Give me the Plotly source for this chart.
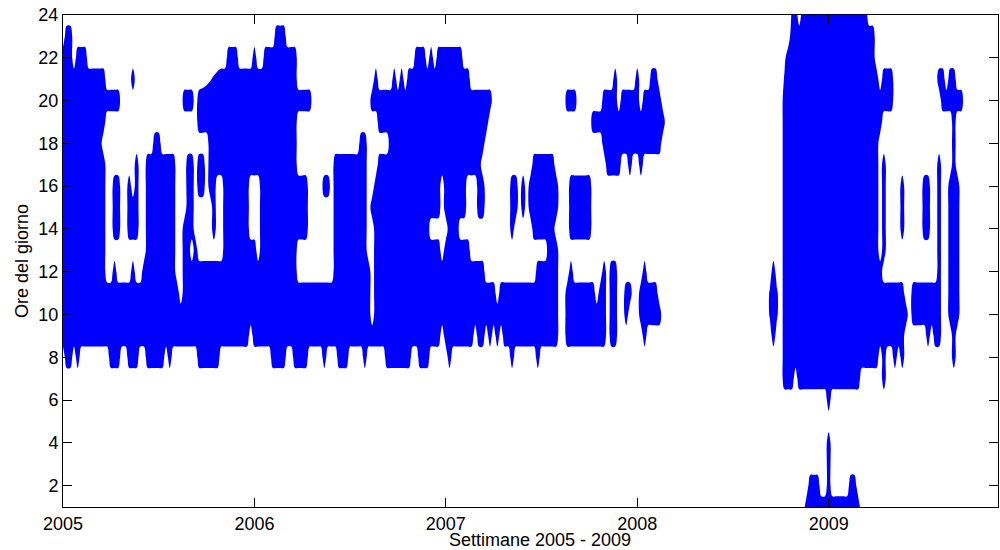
import numpy as np
import plotly.graph_objects as go

# ---- data: active week intervals (inclusive) for each hour of the day ----
N_WEEKS = 255
weeks = list(range(N_WEEKS))
hours = list(range(1, 25))
year_ticks = [0, 52, 104, 156, 208]
year_labels = ["2005", "2006", "2007", "2008", "2009"]
hour_ticks = list(range(2, 25, 2))

row_24 = [[199, 199], [201, 218]]
row_23 = [[1, 2], [58, 60], [198, 220]]
row_22 = [[0, 2], [4, 6], [45, 47], [52, 52], [55, 63], [96, 98], [100, 100], [102, 108], [197, 220]]
row_21 = [[0, 11], [19, 19], [43, 63], [85, 85], [90, 90], [92, 92], [94, 110], [150, 150], [156, 156],
          [160, 161], [197, 221], [223, 225], [238, 239], [241, 242]]
row_20 = [[0, 15], [33, 35], [37, 67], [84, 116], [137, 139], [147, 150], [152, 156], [158, 162],
          [196, 225], [239, 244]]
row_19 = [[0, 11], [37, 63], [86, 115], [144, 163], [196, 222], [242, 242]]
row_18 = [[0, 10], [25, 26], [40, 63], [81, 82], [89, 114], [147, 162], [196, 221], [242, 242]]
row_17 = [[0, 11], [20, 20], [23, 30], [34, 35], [37, 38], [40, 63], [74, 82], [86, 113], [128, 133],
          [148, 151], [154, 154], [157, 157], [196, 221], [223, 223], [238, 238], [242, 242]]
row_16 = [[0, 11], [14, 15], [18, 18], [20, 20], [23, 30], [34, 35], [37, 38], [40, 41], [44, 50],
          [54, 66], [71, 72], [74, 82], [85, 102], [104, 109], [113, 114], [122, 123], [125, 125],
          [127, 134], [138, 143], [196, 221], [223, 223], [228, 228], [234, 235], [238, 238], [241, 243]]
row_15 = [[0, 11], [14, 15], [18, 20], [23, 30], [34, 35], [41, 41], [44, 50], [54, 66], [74, 82],
          [84, 102], [104, 109], [113, 114], [122, 123], [125, 125], [127, 134], [138, 143],
          [196, 221], [223, 223], [228, 228], [234, 235], [238, 238], [241, 243]]
row_14 = [[0, 11], [14, 15], [18, 20], [23, 30], [33, 35], [41, 41], [44, 50], [54, 66], [74, 82],
          [85, 99], [105, 107], [122, 122], [128, 133], [138, 143], [196, 221], [223, 223],
          [228, 228], [234, 235], [238, 238], [241, 243]]
row_13 = [[0, 11], [23, 30], [33, 34], [36, 36], [44, 52], [54, 63], [74, 82], [85, 102], [104, 110],
          [132, 134], [196, 221], [223, 223], [238, 238], [241, 243]]
row_12 = [[0, 11], [14, 14], [19, 19], [22, 30], [33, 63], [74, 83], [85, 114], [129, 134],
          [138, 138], [147, 147], [149, 150], [158, 158], [193, 193], [196, 222], [238, 238], [241, 243]]
row_11 = [[0, 31], [33, 83], [85, 117], [119, 134], [137, 144], [146, 147], [149, 150], [153, 154],
          [157, 161], [193, 193], [196, 228], [231, 238], [241, 243]]
row_10 = [[0, 83], [85, 134], [137, 147], [149, 150], [153, 153], [157, 162], [193, 193],
          [196, 229], [231, 238], [241, 243]]
row_09 = [[0, 50], [52, 102], [104, 111], [113, 114], [116, 116], [118, 118], [120, 134], [137, 147],
          [149, 150], [158, 158], [193, 193], [196, 228], [235, 235], [237, 238], [242, 242]]
row_08 = [[1, 2], [4, 4], [13, 15], [18, 20], [23, 27], [29, 29], [37, 42], [57, 60], [63, 66],
          [71, 71], [75, 77], [82, 82], [88, 94], [97, 99], [105, 105], [122, 122], [129, 129],
          [196, 221], [223, 223], [226, 226], [228, 228], [242, 242]]
row_07 = [[196, 198], [200, 216], [223, 223]]
row_06 = [[208, 208]]
row_05 = []
row_04 = [[208, 208]]
row_03 = [[208, 208]]
row_02 = [[203, 205], [208, 208], [214, 215]]
row_01 = [[202, 216]]

rows = [row_01, row_02, row_03, row_04, row_05, row_06, row_07, row_08, row_09, row_10, row_11, row_12,
        row_13, row_14, row_15, row_16, row_17, row_18, row_19, row_20, row_21, row_22, row_23, row_24]

# partially active cells: (hour, week, value)
partial_cells = [(21, 38, 0.15), (21, 39, 0.3), (21, 40, 0.45), (21, 41, 0.6), (21, 42, 0.8),
                 (10, 192, 0.6), (10, 194, 0.6), (11, 192, 0.6), (11, 194, 0.6),
                 (21, 196, 0.6), (22, 196, 0.3), (24, 198, 0.6)]

z = np.zeros((len(hours), N_WEEKS))
for i, intervals in enumerate(rows):
    for a, b in intervals:
        z[i, a:b + 1] = 1.0
for h, w, v in partial_cells:
    z[h - 1, w] = v

fig = go.Figure(go.Contour(
    x=weeks, y=hours, z=z,
    contours=dict(start=0.5, end=0.5, size=1, coloring="fill", showlines=False),
    colorscale=[[0, "#ffffff"], [1, "#0000ff"]],
    line=dict(width=0),
    showscale=False, hoverinfo="skip",
))

FONT = dict(family="Liberation Sans, Arial, sans-serif", size=18, color="black")
axis_common = dict(showline=True, linecolor="black", linewidth=1, mirror="ticks",
                   ticks="inside", ticklen=9, tickcolor="black", showgrid=False, zeroline=False,
                   tickfont=FONT)

fig.update_xaxes(range=[0, N_WEEKS - 1], tickvals=year_ticks, ticktext=year_labels, **axis_common)
fig.update_yaxes(range=[1, 24], tickvals=hour_ticks, **axis_common)

L, R, T, B = 63, 2, 15, 43
pw, ph = 1000 - L - R, 550 - T - B
fig.update_layout(
    width=1000, height=550,
    margin=dict(l=L, r=R, t=T, b=B),
    paper_bgcolor="white", plot_bgcolor="white",
    annotations=[
        dict(text="Settimane 2005 - 2009", x=(540 - L) / pw, y=(550 - B - 540) / ph,
             xref="paper", yref="paper", xanchor="center", yanchor="middle",
             showarrow=False, font=FONT),
        dict(text="Ore del giorno", x=(22 - L) / pw, y=(550 - B - 261) / ph,
             xref="paper", yref="paper", xanchor="center", yanchor="middle",
             textangle=-90, showarrow=False, font=FONT),
    ],
)

fig.write_html("out.html", config={"displayModeBar": False},
               post_script="document.body.style.margin='0px';")
